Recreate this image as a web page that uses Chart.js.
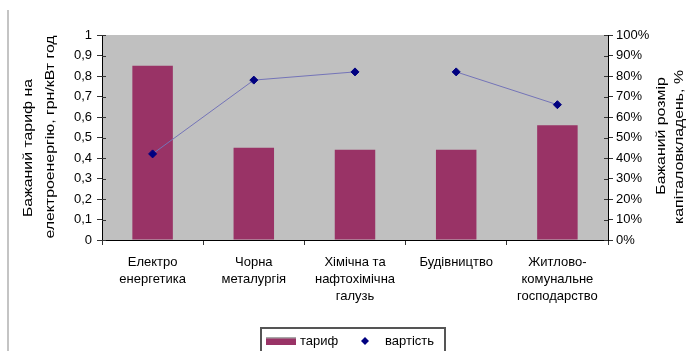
<!DOCTYPE html>
<html lang="uk">
<head>
<meta charset="utf-8">
<script src="https://cdn.jsdelivr.net/npm/chart.js@4/dist/chart.umd.min.js"></script>
<style>
  html, body { margin: 0; padding: 0; background: #fff; }
  #wrap { width: 688px; height: 351px; position: relative; }
</style>
</head>
<body>
<div id="wrap"><canvas id="c" width="688" height="351"></canvas></div>
<script>
// Галузі (підписи категорій, розбиті на рядки)
const categories = [
  ['Електро', 'енергетика'],
  ['Чорна', 'металургія'],
  ['Хімічна та', 'нафтохімічна', 'галузь'],
  ['Будівництво'],
  ['Житлово-', 'комунальне', 'господарство']
];
// Бажаний тариф, грн/кВт·год
const tariff = [0.85, 0.45, 0.44, 0.44, 0.56];
// Бажаний розмір капіталовкладень, %
const cost = [42, 78, 82, 82, 66];

const seriesNames = ['тариф', 'вартість'];
const leftTitle = ['Бажаний тариф на', 'електроенергію, грн/кВт год'];
const rightTitle = ['Бажаний розмір', 'капіталовкладень, %'];

const BAR = '#993366';
const PLOT_BG = '#c0c0c0';
const LINE = '#7474b8';
const MARK = '#000080';
const FONT = '"Liberation Sans", Arial, sans-serif';

Chart.defaults.font.family = FONT;
Chart.defaults.font.size = 13;
Chart.defaults.color = '#000';

// Сірий фон області побудови, рамка, заголовки осей, легенда
const decor = {
  id: 'decor',
  beforeDraw(chart) {
    const { ctx, chartArea: a } = chart;
    ctx.save();
    ctx.fillStyle = PLOT_BG;
    ctx.fillRect(a.left, a.top, a.right - a.left, a.bottom - a.top);
    // ліва межа об'єкта діаграми
    ctx.strokeStyle = '#c4c4c4';
    ctx.lineWidth = 2;
    ctx.beginPath();
    ctx.moveTo(8, 10);
    ctx.lineTo(8, 351);
    ctx.stroke();
    ctx.restore();
  },
  afterDraw(chart) {
    const { ctx, chartArea: a } = chart;
    ctx.save();
    // внутрішні частини поділок на вертикальних осях
    ctx.strokeStyle = '#333';
    ctx.lineWidth = 1;
    const y = chart.scales.y, y1 = chart.scales.y1;
    y.ticks.forEach((t, i) => {
      const py = Math.round(y.getPixelForTick(i)) + 0.5;
      ctx.beginPath(); ctx.moveTo(a.left, py); ctx.lineTo(a.left + 4, py); ctx.stroke();
    });
    y1.ticks.forEach((t, i) => {
      const py = Math.round(y1.getPixelForTick(i)) + 0.5;
      ctx.beginPath(); ctx.moveTo(a.right - 4, py); ctx.lineTo(a.right, py); ctx.stroke();
    });

    // заголовки осей (читаються знизу вгору)
    const stretch = 1.22;
    const drawRot = (text, x, yc) => {
      ctx.save();
      ctx.translate(x, yc);
      ctx.rotate(-Math.PI / 2);
      ctx.scale(stretch, 1);
      ctx.font = '13px ' + FONT;
      ctx.fillStyle = '#000';
      ctx.textAlign = 'center';
      ctx.textBaseline = 'middle';
      ctx.fillText(text, 0, 0);
      ctx.restore();
    };
    drawRot(leftTitle[0], 28, 148);
    drawRot(leftTitle[1], 50, 137);
    drawRot(rightTitle[0], 661, 136);
    drawRot(rightTitle[1], 679, 147);

    // легенда
    const lx = 261, ly = 328, lw = 184, cy = 341;
    ctx.strokeStyle = '#555';
    ctx.lineWidth = 2;
    ctx.strokeRect(lx, ly, lw, 40);
    ctx.fillStyle = BAR;
    ctx.fillRect(266, 338, 30, 7);
    ctx.fillStyle = '#a8a8a8';
    ctx.fillRect(266, 337, 30, 1.5);
    ctx.font = '13px ' + FONT;
    ctx.fillStyle = '#000';
    ctx.textBaseline = 'middle';
    ctx.textAlign = 'left';
    ctx.fillText(chart.data.datasets[0].label, 300, cy);
    ctx.fillStyle = MARK;
    ctx.beginPath();
    ctx.moveTo(365, cy - 4); ctx.lineTo(369, cy); ctx.lineTo(365, cy + 4); ctx.lineTo(361, cy);
    ctx.closePath(); ctx.fill();
    ctx.fillStyle = '#000';
    ctx.fillText(chart.data.datasets[1].label, 385, cy);
    ctx.restore();
  }
};

const fmtComma = v => (Math.round(v * 10) / 10).toString().replace('.', ',');

new Chart(document.getElementById('c'), {
  data: {
    labels: categories,
    datasets: [
      {
        type: 'bar',
        label: seriesNames[0],
        data: tariff,
        yAxisID: 'y',
        backgroundColor: BAR,
        borderWidth: 0,
        categoryPercentage: 1,
        barPercentage: 0.4,
        order: 2
      },
      {
        type: 'line',
        label: seriesNames[1],
        data: cost,
        yAxisID: 'y1',
        borderColor: LINE,
        borderWidth: 1,
        pointStyle: 'rectRot',
        pointRadius: 4,
        pointBackgroundColor: MARK,
        pointBorderColor: MARK,
        pointBorderWidth: 1,
        tension: 0,
        segment: {
          borderColor: c => c.p0DataIndex === 2 ? 'rgba(0,0,0,0)' : LINE
        },
        order: 1
      }
    ]
  },
  options: {
    responsive: false,
    animation: false,
    layout: { padding: { top: 35, left: 0, right: 0, bottom: 0 } },
    plugins: { legend: { display: false }, tooltip: { enabled: false } },
    scales: {
      x: {
        offset: true,
        grid: { offset: true, drawOnChartArea: false, tickLength: 5, color: '#333' },
        border: { color: '#000', width: 1 },
        ticks: { padding: 9, maxRotation: 0, autoSkip: false, font: { size: 13, lineHeight: 1.3 } },
        afterFit: s => { s.height = 111; }
      },
      y: {
        position: 'left',
        min: 0, max: 1,
        grid: { drawOnChartArea: false, tickLength: 5, color: '#333' },
        border: { color: '#000', width: 1 },
        ticks: { stepSize: 0.1, padding: 5, callback: v => fmtComma(v) },
        afterFit: s => { s.width = 102; }
      },
      y1: {
        position: 'right',
        min: 0, max: 100,
        grid: { drawOnChartArea: false, tickLength: 5, color: '#333' },
        border: { color: '#000', width: 1 },
        ticks: { stepSize: 10, padding: 3, callback: v => v + '%' },
        afterFit: s => { s.width = 80; }
      }
    }
  },
  plugins: [decor]
});
</script>
</body>
</html>
